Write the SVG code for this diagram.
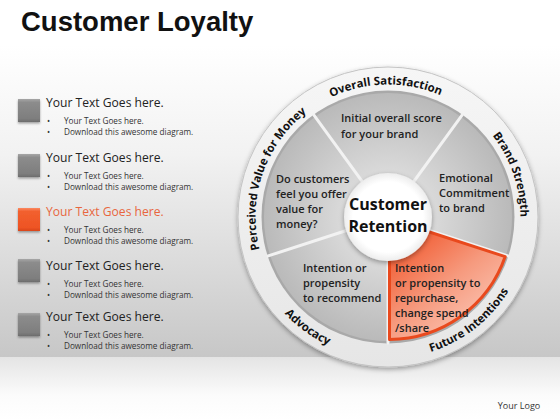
<svg xmlns="http://www.w3.org/2000/svg" width="560" height="420" viewBox="0 0 560 420">
<defs>
<style>
.title{font-family:"Liberation Sans",Arial,sans-serif;font-weight:700;font-size:27.5px;fill:#111}
.h{font-family:"Open Sans","Liberation Sans",sans-serif;font-size:12.1px;fill:#222}
.ho{fill:#e8663e}
.b{font-family:"Open Sans","Liberation Sans",sans-serif;font-size:8.2px;fill:#333}
.w{font-family:"Open Sans","Liberation Sans",sans-serif;font-weight:600;font-size:11px;fill:#222}
.r{font-family:"Open Sans","Liberation Sans",sans-serif;font-weight:700;font-size:11.5px;fill:#111}
.c{font-family:"Open Sans","Liberation Sans",sans-serif;font-weight:700;font-size:16px;fill:#111}
.logo{font-family:"Open Sans","Liberation Sans",sans-serif;font-size:9px;fill:#333}
.div{stroke:#f2f2f2;stroke-width:3;stroke-linecap:round}
</style>
<linearGradient id="bg" x1="0" y1="0" x2="0" y2="1">
<stop offset="0" stop-color="#ffffff"/>
<stop offset="0.35" stop-color="#f2f2f2"/>
<stop offset="1" stop-color="#c7c7c7"/>
</linearGradient>
<linearGradient id="bg2" x1="0" y1="0" x2="0" y2="1">
<stop offset="0" stop-color="#e4e4e4"/>
<stop offset="0.6" stop-color="#fbfbfb"/>
<stop offset="1" stop-color="#ffffff"/>
</linearGradient>
<linearGradient id="sq" x1="0" y1="0" x2="0" y2="1">
<stop offset="0" stop-color="#a6a6a6"/>
<stop offset="0.15" stop-color="#8c8c8c"/>
<stop offset="0.85" stop-color="#7e7e7e"/>
<stop offset="1" stop-color="#6c6c6c"/>
</linearGradient>
<linearGradient id="sqo" x1="0" y1="0" x2="0" y2="1">
<stop offset="0" stop-color="#fb8a62"/>
<stop offset="0.15" stop-color="#f2602f"/>
<stop offset="0.85" stop-color="#ee5424"/>
<stop offset="1" stop-color="#d8451a"/>
</linearGradient>
<linearGradient id="ring" x1="0" y1="0" x2="0" y2="1">
<stop offset="0" stop-color="#f6f6f6"/>
<stop offset="1" stop-color="#e6e6e6"/>
</linearGradient>
<radialGradient id="gw" gradientUnits="userSpaceOnUse" cx="388" cy="217" r="126">
<stop offset="0.35" stop-color="#dadada"/>
<stop offset="1" stop-color="#b9b9b9"/>
</radialGradient>
<linearGradient id="ow" gradientUnits="userSpaceOnUse" x1="400" y1="235" x2="475" y2="330">
<stop offset="0" stop-color="#f1552a"/>
<stop offset="0.55" stop-color="#f69a7e"/>
<stop offset="1" stop-color="#fbc4b3"/>
</linearGradient>
<radialGradient id="cw" cx="0.5" cy="0.5" r="0.5">
<stop offset="0.8" stop-color="#ffffff"/>
<stop offset="1" stop-color="#ededed"/>
</radialGradient>
<filter id="sh" x="-20%" y="-20%" width="140%" height="140%">
<feDropShadow dx="0" dy="2" stdDeviation="2.5" flood-color="#000" flood-opacity="0.35"/>
</filter>
<filter id="sh2" x="-30%" y="-30%" width="160%" height="160%">
<feDropShadow dx="0" dy="1.5" stdDeviation="1.2" flood-color="#000" flood-opacity="0.35"/>
</filter>
<path id="pOverall" d="M255.82,207.76 A132.5,132.5 0 0 1 519.77,203.15"/>
<path id="pBrand" d="M355.95,88.44 A132.5,132.5 0 0 1 441.89,338.05"/>
<path id="pPerceived" d="M334.11,338.05 A132.5,132.5 0 0 1 420.05,88.44"/>
<path id="pFuture" d="M284.51,313.50 A141.5,141.5 0 0 0 506.67,139.93"/>
<path id="pAdvocacy" d="M266.71,144.12 A141.5,141.5 0 0 0 494.79,309.83"/>
</defs>

<rect x="0" y="0" width="560" height="420" fill="#ffffff"/>
<rect x="0" y="45" width="560" height="312" fill="url(#bg)"/>
<rect x="0" y="357" width="560" height="63" fill="url(#bg2)"/>

<text class="title" x="21" y="31">Customer Loyalty</text>

<g id="item1">
<rect x="18" y="99" width="22" height="23" fill="url(#sq)" filter="url(#sh2)"/>
<text class="h" x="46" y="107">Your Text Goes here.</text>
<text class="b" x="47" y="123.5">•</text><text class="b" x="64" y="123.5">Your Text Goes here.</text>
<text class="b" x="47" y="135">•</text><text class="b" x="64" y="135">Download this awesome diagram.</text>
</g>
<g id="item2">
<rect x="18" y="154" width="22" height="23" fill="url(#sq)" filter="url(#sh2)"/>
<text class="h" x="46" y="162">Your Text Goes here.</text>
<text class="b" x="47" y="178.5">•</text><text class="b" x="64" y="178.5">Your Text Goes here.</text>
<text class="b" x="47" y="190">•</text><text class="b" x="64" y="190">Download this awesome diagram.</text>
</g>
<g id="item3">
<rect x="18" y="208" width="22" height="23" fill="url(#sqo)" filter="url(#sh2)"/>
<text class="h ho" x="46" y="216">Your Text Goes here.</text>
<text class="b" x="47" y="232.5">•</text><text class="b" x="64" y="232.5">Your Text Goes here.</text>
<text class="b" x="47" y="244">•</text><text class="b" x="64" y="244">Download this awesome diagram.</text>
</g>
<g id="item4">
<rect x="18" y="259" width="22" height="23" fill="url(#sq)" filter="url(#sh2)"/>
<text class="h" x="46" y="270">Your Text Goes here.</text>
<text class="b" x="47" y="286.5">•</text><text class="b" x="64" y="286.5">Your Text Goes here.</text>
<text class="b" x="47" y="298">•</text><text class="b" x="64" y="298">Download this awesome diagram.</text>
</g>
<g id="item5">
<rect x="18" y="313" width="22" height="23" fill="url(#sq)" filter="url(#sh2)"/>
<text class="h" x="46" y="321">Your Text Goes here.</text>
<text class="b" x="47" y="337.5">•</text><text class="b" x="64" y="337.5">Your Text Goes here.</text>
<text class="b" x="47" y="349">•</text><text class="b" x="64" y="349">Download this awesome diagram.</text>
</g>

<g id="ring">
<circle cx="388" cy="217" r="150" fill="url(#ring)" stroke="#c4c4c4" stroke-width="1" filter="url(#sh)"/>
<circle cx="388" cy="217" r="126.5" fill="#a9a9a9"/>
<text class="r"><textPath href="#pOverall" startOffset="50%" text-anchor="middle">Overall Satisfaction</textPath></text>
<text class="r"><textPath href="#pBrand" startOffset="50%" text-anchor="middle">Brand Strength</textPath></text>
<text class="r"><textPath href="#pFuture" startOffset="50%" text-anchor="middle">Future Intentions</textPath></text>
<text class="r"><textPath href="#pAdvocacy" startOffset="50%" text-anchor="middle">Advocacy</textPath></text>
<text class="r"><textPath href="#pPerceived" startOffset="50%" text-anchor="middle">Perceived Value for Money</textPath></text>
</g>

<g id="wedge-overall">
<path d="M388,217 L315.11,116.68 A124,124 0 0 1 460.89,116.68 Z" fill="url(#gw)"/>
<text class="w" x="341" y="122">Initial overall score</text>
<text class="w" x="341" y="138">for your brand</text>
</g>
<g id="wedge-brand">
<path d="M388,217 L460.89,116.68 A124,124 0 0 1 505.93,255.32 Z" fill="url(#gw)"/>
<text class="w" x="439" y="182">Emotional</text>
<text class="w" x="439" y="197">Commitment</text>
<text class="w" x="439" y="212">to brand</text>
</g>
<g id="wedge-advocacy">
<path d="M388,217 L388,341 A124,124 0 0 1 270.07,255.32 Z" fill="url(#gw)"/>
<text class="w" x="303" y="272">Intention or</text>
<text class="w" x="303" y="287">propensity</text>
<text class="w" x="303" y="302">to recommend</text>
</g>
<g id="wedge-perceived">
<path d="M388,217 L270.07,255.32 A124,124 0 0 1 315.11,116.68 Z" fill="url(#gw)"/>
<text class="w" x="276" y="183">Do customers</text>
<text class="w" x="276" y="198">feel you offer</text>
<text class="w" x="276" y="213">value for</text>
<text class="w" x="276" y="228">money?</text>
</g>
<g id="dividers">
<line class="div" x1="388" y1="217" x2="313.94" y2="115.07"/>
<line class="div" x1="388" y1="217" x2="462.06" y2="115.07"/>
<line class="div" x1="388" y1="217" x2="507.84" y2="255.94"/>
<line class="div" x1="388" y1="217" x2="388" y2="343"/>
<line class="div" x1="388" y1="217" x2="268.16" y2="255.94"/>
</g>
<g id="wedge-future">
<path d="M389.5,219 L505.2,256.6 A122.5,122.5 0 0 1 389.5,339.5 Z" fill="url(#ow)" stroke="#e9491d" stroke-width="3" stroke-linejoin="round"/>
<text class="w" x="395" y="272">Intention</text>
<text class="w" x="395" y="287">or propensity to</text>
<text class="w" x="395" y="302">repurchase,</text>
<text class="w" x="395" y="317">change spend</text>
<text class="w" x="395" y="332">/share</text>
</g>

<g id="center">
<circle cx="388" cy="217" r="44" fill="url(#cw)" filter="url(#sh)"/>
<text class="c" x="388" y="210" text-anchor="middle">Customer</text>
<text class="c" x="388" y="232" text-anchor="middle">Retention</text>
</g>

<text class="logo" x="519" y="409" text-anchor="middle">Your Logo</text>
</svg>
